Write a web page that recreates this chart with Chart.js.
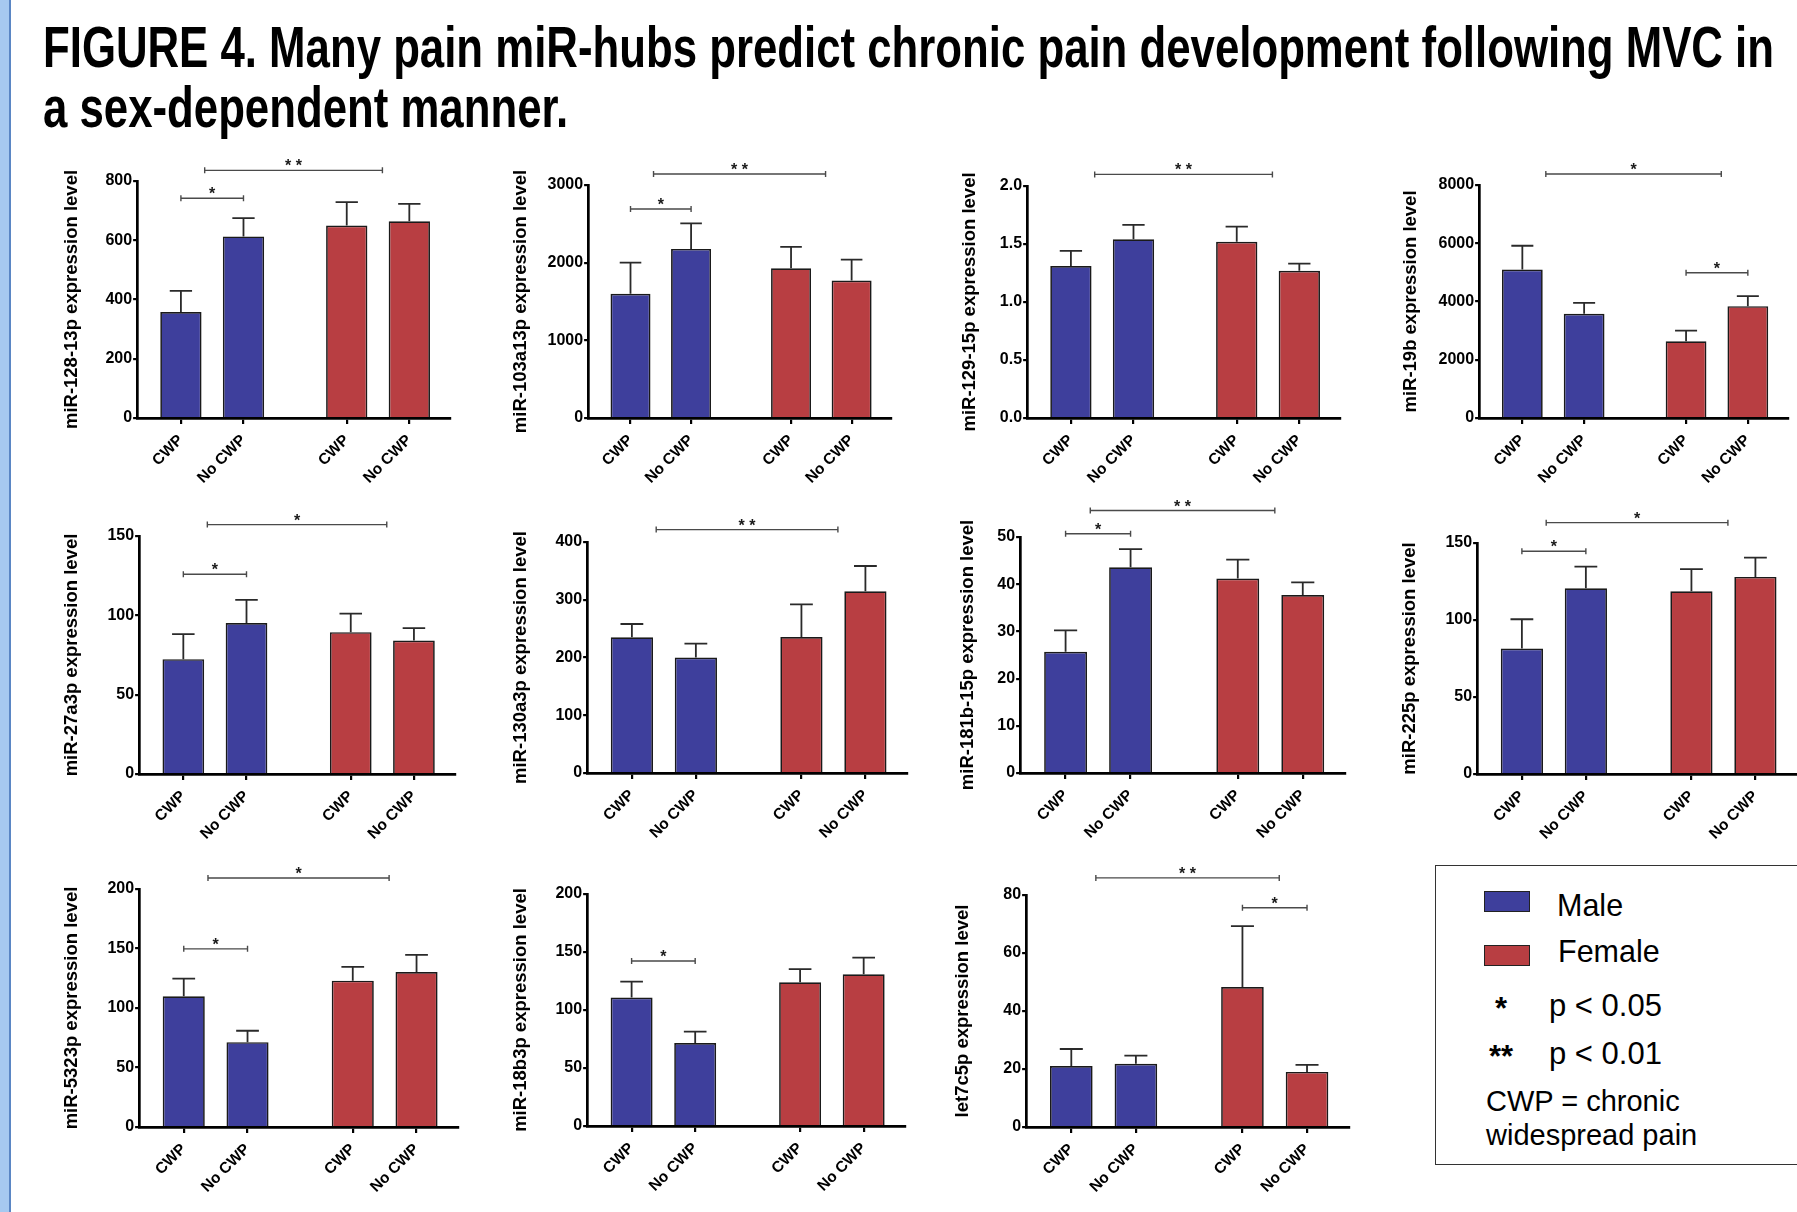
<!DOCTYPE html>
<html>
<head>
<meta charset="utf-8">
<script src="https://cdn.jsdelivr.net/npm/chart.js"></script>
<style>
  html, body { margin: 0; padding: 0; background: #fff; }
  #page { position: relative; width: 1797px; height: 1212px; overflow: hidden; background: #fff; }
  #strip { position: absolute; left: 0; top: 0; width: 9px; height: 1212px; background: #a6c9f0; border-right: 2px solid #5a86c4; }
  .ttl { position: absolute; left: 43px; font: bold 58px "Liberation Sans Narrow", "Arial Narrow", "Liberation Sans", Arial, sans-serif;
         line-height: 58px; white-space: nowrap; transform-origin: 0 0; color: #000; }
  canvas { position: absolute; }
  #legend { position: absolute; left: 1435px; top: 865px; width: 400px; height: 300px; border: 1.5px solid #333; box-sizing: border-box; }
  .sw { position: absolute; width: 46px; height: 21px; border: 1.5px solid #222; box-sizing: border-box; }
  .lt { position: absolute; font-family: "Liberation Sans", Arial, sans-serif; line-height: 1; white-space: nowrap; color: #000; }
</style>
</head>
<body>
<div id="page">
  <div id="strip"></div>
  <div id="t1" class="ttl" style="top:18px">FIGURE 4. Many pain miR-hubs predict chronic pain development following MVC in</div>
  <div id="t2" class="ttl" style="top:78px">a sex-dependent manner.</div>
  <div id="legend"></div>
</div>
<script>
// x categories (Male CWP, Male No CWP, Female CWP, Female No CWP)
const groups = ["CWP", "No CWP", "CWP", "No CWP"];
const sexes = ["Male", "Male", "Female", "Female"];

// mean and upper SEM per miRNA
const mir128Mean = [358, 613, 650, 664];
const mir128Sem = [71, 62, 79, 59];
const mir128Ticks = ["0", "200", "400", "600", "800"];
const mir128Sig = [[0, 1, 742, "*"], [0.38, 3.22, 836, "* *"]];

const mir103Mean = [1599, 2177, 1929, 1770];
const mir103Sem = [402, 330, 274, 270];
const mir103Ticks = ["0", "1000", "2000", "3000"];
const mir103Sig = [[0, 1, 2691, "*"], [0.38, 3.22, 3142, "* *"]];

const mir129Mean = [1.31, 1.54, 1.52, 1.27];
const mir129Sem = [0.13, 0.125, 0.13, 0.06];
const mir129Ticks = ["0.0", "0.5", "1.0", "1.5", "2.0"];
const mir129Sig = [[0.38, 3.22, 2.10, "* *"]];

const mir19bMean = [5100, 3576, 2636, 3840];
const mir19bSem = [814, 378, 367, 343];
const mir19bTicks = ["0", "2000", "4000", "6000", "8000"];
const mir19bSig = [[0.38, 3.22, 8378, "*"], [2.65, 3.65, 4985, "*"]];

const mir27Mean = [72.4, 95.2, 89.4, 84.1];
const mir27Sem = [15.7, 14.5, 11.7, 7.8];
const mir27Ticks = ["0", "50", "100", "150"];
const mir27Sig = [[0, 1, 125.9, "*"], [0.38, 3.22, 157.2, "*"]];

const mir130Mean = [235, 200, 235.5, 314.6];
const mir130Sem = [23, 24, 56.5, 43.8];
const mir130Ticks = ["0", "100", "200", "300", "400"];
const mir130Sig = [[0.38, 3.22, 421.5, "* *"]];

const mir181Mean = [25.7, 43.6, 41.2, 37.7];
const mir181Sem = [4.5, 3.85, 4.0, 2.7];
const mir181Ticks = ["0", "10", "20", "30", "40", "50"];
const mir181Sig = [[0, 1, 50.7, "*"], [0.38, 3.22, 55.6, "* *"]];

const mir225Mean = [81.5, 120.6, 118.7, 128];
const mir225Sem = [19, 14.1, 14.4, 12.5];
const mir225Ticks = ["0", "50", "100", "150"];
const mir225Sig = [[0, 1, 144.6, "*"], [0.38, 3.22, 163.2, "*"]];

const mir5323Mean = [109.8, 71.3, 123, 130.3];
const mir5323Sem = [14.9, 9.6, 11.6, 14.4];
const mir5323Ticks = ["0", "50", "100", "150", "200"];
const mir5323Sig = [[0, 1, 149.7, "*"], [0.38, 3.22, 209.3, "*"]];

const mir18bMean = [110.7, 71.5, 123.9, 130.8];
const mir18bSem = [13.8, 9.8, 11.3, 14.4];
const mir18bTicks = ["0", "50", "100", "150", "200"];
const mir18bSig = [[0, 1, 142.3, "*"]];

const let7cMean = [21, 21.8, 48.3, 19];
const let7cSem = [5.9, 2.8, 21, 2.4];
const let7cTicks = ["0", "20", "40", "60", "80"];
const let7cSig = [[2.65, 3.65, 75.6, "*"], [0.38, 3.22, 85.9, "* *"]];

const panels = [
  { title: "miR-128-13p expression level", mean: mir128Mean, sem: mir128Sem, ticks: mir128Ticks, sig: mir128Sig },
  { title: "miR-103a13p expression level", mean: mir103Mean, sem: mir103Sem, ticks: mir103Ticks, sig: mir103Sig },
  { title: "miR-129-15p expression level", mean: mir129Mean, sem: mir129Sem, ticks: mir129Ticks, sig: mir129Sig },
  { title: "miR-19b expression level", mean: mir19bMean, sem: mir19bSem, ticks: mir19bTicks, sig: mir19bSig },
  { title: "miR-27a3p expression level", mean: mir27Mean, sem: mir27Sem, ticks: mir27Ticks, sig: mir27Sig },
  { title: "miR-130a3p expression level", mean: mir130Mean, sem: mir130Sem, ticks: mir130Ticks, sig: mir130Sig },
  { title: "miR-181b-15p expression level", mean: mir181Mean, sem: mir181Sem, ticks: mir181Ticks, sig: mir181Sig },
  { title: "miR-225p expression level", mean: mir225Mean, sem: mir225Sem, ticks: mir225Ticks, sig: mir225Sig },
  { title: "miR-5323p expression level", mean: mir5323Mean, sem: mir5323Sem, ticks: mir5323Ticks, sig: mir5323Sig },
  { title: "miR-18b3p expression level", mean: mir18bMean, sem: mir18bSem, ticks: mir18bTicks, sig: mir18bSig },
  { title: "let7c5p expression level", mean: let7cMean, sem: let7cSem, ticks: let7cTicks, sig: let7cSig }
];

// page layout: y-axis x, x-axis end, top tick y, zero y, axis title x
const boxes = [
  [137, 450, 181, 418, 72], [588, 891, 185, 418, 521], [1027, 1340, 186, 418, 970], [1479, 1788, 185, 418, 1411],
  [139, 455, 536, 774, 72], [587, 907, 542, 773, 521], [1020, 1345, 537, 773, 968], [1477, 1797, 543, 774, 1410],
  [139, 458, 889, 1127, 72], [587, 905, 894, 1126, 521], [1026, 1349, 895, 1127, 963]
];
const slotX = [0, 1, 2.65, 3.65];
const colors = { Male: "#3e3f9c", Female: "#b83e42" };
const FONT = "'Liberation Sans', Arial, sans-serif";
const PAD_TOP = 70, X_AXIS_H = 95, TITLE_SIZE = 18.5;

const extras = (p) => ({
  id: "extras",
  afterDatasetsDraw(chart) {
    const ctx = chart.ctx, xs = chart.scales.x, ys = chart.scales.y;
    ctx.save();
    // upper error bars
    ctx.strokeStyle = "#2a2a2a";
    ctx.lineWidth = 1.8;
    chart.getDatasetMeta(0).data.forEach((bar, k) => {
      const yTop = ys.getPixelForValue(p.mean[k] + p.sem[k]);
      const half = bar.width * 0.27;
      ctx.beginPath();
      ctx.moveTo(bar.x, bar.y);
      ctx.lineTo(bar.x, yTop);
      ctx.moveTo(bar.x - half, yTop);
      ctx.lineTo(bar.x + half, yTop);
      ctx.stroke();
    });
    // significance brackets
    ctx.strokeStyle = "#4a4a4a";
    ctx.lineWidth = 1.4;
    ctx.fillStyle = "#1a1a1a";
    ctx.font = "bold 16px " + FONT;
    ctx.textAlign = "center";
    ctx.textBaseline = "alphabetic";
    p.sig.forEach(([a, b, lvl, mark]) => {
      const x1 = xs.getPixelForValue(a), x2 = xs.getPixelForValue(b), y = ys.getPixelForValue(lvl);
      ctx.beginPath();
      ctx.moveTo(x1, y); ctx.lineTo(x2, y);
      ctx.moveTo(x1, y - 3); ctx.lineTo(x1, y + 3);
      ctx.moveTo(x2, y - 3); ctx.lineTo(x2, y + 3);
      ctx.stroke();
      ctx.fillText(mark, (x1 + x2) / 2, y + 1);
    });
    ctx.restore();
  }
});

const page = document.getElementById("page");

panels.forEach((p, i) => {
  const [axisX, xEnd, topY, zeroY, titleX] = boxes[i];
  const left = titleX - (TITLE_SIZE * 1.2 / 2 + 4);
  const top = topY - PAD_TOP;
  const cv = document.createElement("canvas");
  cv.width = Math.round(xEnd - left + 2);
  cv.height = Math.round(zeroY - top + X_AXIS_H);
  cv.style.left = left + "px";
  cv.style.top = top + "px";
  page.appendChild(cv);
  const yVals = p.ticks.map(Number);

  new Chart(cv, {
    type: "bar",
    data: {
      datasets: [{
        data: p.mean.map((v, k) => ({ x: slotX[k], y: v })),
        backgroundColor: sexes.map(s => colors[s]),
        borderColor: "#1a1a1a",
        borderWidth: 1.7,
        categoryPercentage: 1,
        barPercentage: 0.66
      }]
    },
    options: {
      responsive: false,
      animation: false,
      devicePixelRatio: 1,
      layout: { padding: { top: PAD_TOP, right: 2, left: 0, bottom: 0 } },
      plugins: { legend: { display: false }, tooltip: { enabled: false } },
      scales: {
        x: {
          type: "linear",
          min: -0.7,
          max: 4.3,
          offset: false,
          grid: { offset: false, drawOnChartArea: false, drawTicks: true, tickLength: 6, color: "#000", lineWidth: 2.2 },
          border: { color: "#000", width: 2.7 },
          afterBuildTicks: s => { s.ticks = slotX.map(v => ({ value: v })); },
          afterFit: s => { s.height = X_AXIS_H; },
          ticks: {
            autoSkip: false, minRotation: 45, maxRotation: 45, padding: 7,
            color: "#000", font: { family: FONT, weight: "bold", size: 15.5 },
            callback: (v, k) => groups[k]
          }
        },
        y: {
          min: 0,
          max: yVals[yVals.length - 1],
          afterBuildTicks: s => { s.ticks = yVals.map(v => ({ value: v })); },
          afterFit: s => { s.width = axisX - left; },
          grid: { drawOnChartArea: false, drawTicks: true, tickLength: 4, color: "#000", lineWidth: 2.2 },
          border: { color: "#000", width: 2.7 },
          ticks: {
            padding: 1, color: "#000", font: { family: FONT, weight: "bold", size: 16 },
            callback: (v, k) => p.ticks[k]
          },
          title: {
            display: true, text: p.title, color: "#000", padding: { top: 4, bottom: 4 },
            font: { family: FONT, weight: "bold", size: TITLE_SIZE }
          }
        }
      }
    },
    plugins: [extras(p)]
  });
});

// legend box (page text)
const legend = document.getElementById("legend");
const addText = (txt, x, baseline, size, bold) => {
  const d = document.createElement("div");
  d.className = "lt";
  d.textContent = txt;
  d.style.fontSize = size + "px";
  if (bold) d.style.fontWeight = "bold";
  d.style.left = (x - 1435) + "px";
  d.style.top = (baseline - 0.8465 * size - 865) + "px";
  legend.appendChild(d);
};
const addSwatch = (sex, x, y) => {
  const d = document.createElement("div");
  d.className = "sw";
  d.style.background = colors[sex];
  d.style.left = (x - 1435) + "px";
  d.style.top = (y - 865) + "px";
  legend.appendChild(d);
};
addSwatch("Male", 1483, 890);
addText("Male", 1556, 915, 30.5);
addSwatch("Female", 1483, 944);
addText("Female", 1557, 961, 30.5);
addText("*", 1494, 1018, 31, true);
addText("p < 0.05", 1548, 1015, 31);
addText("**", 1488, 1066, 31, true);
addText("p < 0.01", 1548, 1063, 31);
addText("CWP = chronic", 1485, 1111, 29);
addText("widespread pain", 1485, 1145, 29);

// fit the condensed title to the width it has in the figure
const t1 = document.getElementById("t1"), t2 = document.getElementById("t2");
const sx = 1731 / t1.getBoundingClientRect().width;
t1.style.transform = "scaleX(" + sx + ")";
t2.style.transform = "scaleX(" + sx + ")";
</script>
</body>
</html>
